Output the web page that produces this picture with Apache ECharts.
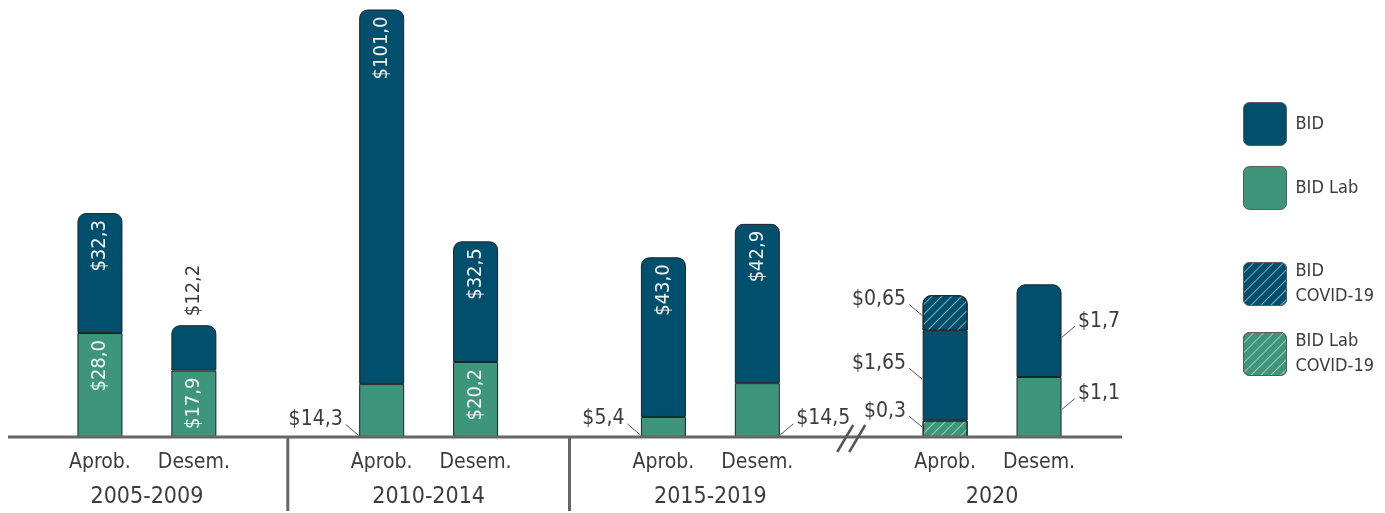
<!DOCTYPE html>
<html><head><meta charset="utf-8">
<script src="https://cdn.jsdelivr.net/npm/echarts@6/dist/echarts.min.js"></script>
<style>html,body{margin:0;padding:0;background:#fff}#c{width:1385px;height:513px}</style>
</head><body><div id="c"></div>
<script>
// ---------- DATA ----------
const categories = ['Aprob.', 'Desem.', '', 'Aprob.', 'Desem.', '', 'Aprob.', 'Desem.', '', 'Aprob.', 'Desem.'];
const periods = ['2005-2009', '2010-2014', '2015-2019', '2020'];
// 2005-2019 (main scale)
const bidLab = [28.0, 17.9, null, 14.3, 20.2, null, 5.4, 14.5, null, null, null];
const bid    = [32.3, 12.2, null, 101.0, 32.5, null, 43.0, 42.9, null, null, null];
// 2020 (separate scale, after the axis break)
const bidLabCovid2020 = [null, null, null, null, null, null, null, null, null, 0.3, null];
const bidLab2020      = [null, null, null, null, null, null, null, null, null, null, 1.1];
const bid2020         = [null, null, null, null, null, null, null, null, null, 1.65, 1.7];
const bidCovid2020    = [null, null, null, null, null, null, null, null, null, 0.65, null];

// ---------- STYLE ----------
const FONT = "'DejaVu Sans Condensed', 'Liberation Sans Narrow', 'DejaVu Sans', sans-serif";
const TXT = '#3c3c3c';
const C_BID = '#00506d';
const C_LAB = '#3d9679';
const BORDER = '#1d2226';
const BARW = 45;
const hatch = {
  symbol: 'rect', symbolSize: 1,
  dashArrayX: [[1, 0]], dashArrayY: [0.8, 6],
  rotation: -Math.PI / 4, color: 'rgba(255,255,255,0.5)'
};
const fmt = v => '$' + String(v).replace('.', ',');
const fmt1 = v => '$' + v.toFixed(1).replace('.', ',');

// which segment is on top of each bar (gets rounded corners)
const stackOrderMain = [bidLab, bid];
const stackOrder2020 = [bidLabCovid2020, bidLab2020, bid2020, bidCovid2020];
function topOf(order) {
  return categories.map((_, i) => {
    let t = -1;
    order.forEach((arr, k) => { if (arr[i] != null) t = k; });
    return t;
  });
}
const topMain = topOf(stackOrderMain);
const top2020 = topOf(stackOrder2020);
function mkData(arr, k, tops) {
  return arr.map((v, i) => v == null ? '-' :
    (tops[i] === k ? { value: v, itemStyle: { borderRadius: [8, 8, 0, 0] } } : v));
}

// labels drawn inside the bar (rotated); others are drawn outside with leader lines
const insideMain = { lab: [0, 1, 4], bid: [0, 3, 4, 6, 7] };
const aboveMain = { bid: [1] };

function insideLabel(list, above) {
  return {
    show: true, rotate: 90, fontFamily: FONT, fontSize: 20,
    position: 'insideTop', distance: 7, align: 'right', verticalAlign: 'middle',
    color: '#f4f4f4',
    formatter: p => (list.includes(p.dataIndex) || (above || []).includes(p.dataIndex)) ? fmt1(p.value) : ''
  };
}

const baseBar = {
  type: 'bar', barWidth: BARW, barGap: '-100%',
  xAxisIndex: 0,
  itemStyle: { borderColor: BORDER, borderWidth: 1 },
  emphasis: { disabled: true }
};

const series = [
  Object.assign({}, baseBar, {
    name: 'BID Lab', stack: 'main', yAxisIndex: 0,
    data: mkData(bidLab, 0, topMain),
    itemStyle: { color: C_LAB, borderColor: BORDER, borderWidth: 1 },
    label: insideLabel(insideMain.lab)
  }),
  Object.assign({}, baseBar, {
    name: 'BID', stack: 'main', yAxisIndex: 0,
    data: mkData(bid, 1, topMain).map((d, i) => {
      if (aboveMain.bid.includes(i)) {
        const o = typeof d === 'object' ? d : { value: d };
        o.label = { position: 'top', align: 'left', color: TXT, distance: 9 };
        return o;
      }
      return d;
    }),
    itemStyle: { color: C_BID, borderColor: BORDER, borderWidth: 1 },
    label: insideLabel(insideMain.bid, aboveMain.bid)
  }),
  Object.assign({}, baseBar, {
    name: 'BID Lab COVID-19', stack: 'y2020', yAxisIndex: 1,
    data: mkData(bidLabCovid2020, 0, top2020),
    itemStyle: { color: C_LAB, borderColor: BORDER, borderWidth: 1, decal: hatch }
  }),
  Object.assign({}, baseBar, {
    name: 'BID Lab', stack: 'y2020', yAxisIndex: 1,
    data: mkData(bidLab2020, 1, top2020),
    itemStyle: { color: C_LAB, borderColor: BORDER, borderWidth: 1 }
  }),
  Object.assign({}, baseBar, {
    name: 'BID', stack: 'y2020', yAxisIndex: 1,
    data: mkData(bid2020, 2, top2020),
    itemStyle: { color: C_BID, borderColor: BORDER, borderWidth: 1 }
  }),
  Object.assign({}, baseBar, {
    name: 'BID COVID-19', stack: 'y2020', yAxisIndex: 1,
    data: mkData(bidCovid2020, 3, top2020),
    itemStyle: { color: C_BID, borderColor: BORDER, borderWidth: 1, decal: hatch }
  })
];

const legendIcon = 'path://M6,0H37A6,6 0 0 1 43,6V37A6,6 0 0 1 37,43H6A6,6 0 0 1 0,37V6A6,6 0 0 1 6,0Z';
const legendNames = { 'BID COVID-19': 'BID\nCOVID-19', 'BID Lab COVID-19': 'BID Lab\nCOVID-19' };
const legendCommon = {
  orient: 'vertical', left: 1238, itemWidth: 43, itemHeight: 43, itemGap: 20,
  icon: legendIcon, selectedMode: false,
  itemStyle: { borderColor: '#5a5a5a', borderWidth: 1 },
  textStyle: { fontFamily: FONT, fontSize: 18, color: TXT, lineHeight: 25, padding: [0, 0, 0, 4] },
  formatter: n => legendNames[n] || n
};

const chart = echarts.init(document.getElementById('c'), null, { renderer: 'canvas' });
chart.setOption({
  animation: false,
  aria: { decal: { show: false } },
  grid: { left: 53, right: 299, top: 10, bottom: 76, containLabel: false },
  legend: [
    Object.assign({}, legendCommon, { top: 97, data: ['BID', 'BID Lab'] }),
    Object.assign({}, legendCommon, { top: 254, data: ['BID COVID-19', 'BID Lab COVID-19'] })
  ],
  xAxis: {
    type: 'category', data: categories,
    axisLine: { show: false }, axisTick: { show: false },
    axisLabel: { fontFamily: FONT, fontSize: 21, color: TXT, margin: 15, interval: 0 }
  },
  yAxis: [
    { type: 'value', min: 0, max: 115, show: false },
    { type: 'value', min: 0, max: 7.83, show: false }
  ],
  series: series
});

// ---------- decorations computed through the chart's scales ----------
const px = i => chart.convertToPixel({ xAxisIndex: 0 }, i);
const pyMain = v => chart.convertToPixel({ yAxisIndex: 0 }, v);
const py2020 = v => chart.convertToPixel({ yAxisIndex: 1 }, v);
const y0 = pyMain(0);
const LINE = '#666';

const g = [];
// baseline
g.push({ type: 'line', shape: { x1: 8, y1: y0, x2: 1122, y2: y0 }, style: { stroke: LINE, lineWidth: 3 }, z: 10 });
// group separators (between groups 1-2 and 2-3)
[2, 5].forEach(i => {
  const x = px(i);
  g.push({ type: 'line', shape: { x1: x, y1: y0, x2: x, y2: 511 }, style: { stroke: LINE, lineWidth: 3 }, z: 10 });
});
// axis break before 2020
{
  const x = px(8);
  [-6, 6].forEach(d => {
    g.push({ type: 'line', shape: { x1: x + d - 8, y1: y0 + 15, x2: x + d + 8, y2: y0 - 12 }, style: { stroke: '#555', lineWidth: 2.5 }, z: 11 });
  });
}
// period labels
periods.forEach((p, k) => {
  const x = (px(k * 3) + px(k * 3 + 1)) / 2;
  g.push({ type: 'text', x: x, y: 497, style: { text: p, fontFamily: FONT, fontSize: 23, fill: TXT, align: 'center', verticalAlign: 'middle' }, z: 10 });
});

// outside labels with leader lines
function segment(order, k, i) {
  let base = 0;
  for (let j = 0; j < k; j++) if (order[j][i] != null) base += order[j][i];
  return [base, base + order[k][i]];
}
const outside = [
  { order: stackOrderMain, k: 0, i: 3, side: 'left', frac: 0.0, py: pyMain, f: fmt1 },
  { order: stackOrderMain, k: 0, i: 6, side: 'left', frac: 0.1, py: pyMain, f: fmt1 },
  { order: stackOrderMain, k: 0, i: 7, side: 'right', frac: 0.04, py: pyMain, f: fmt1 },
  { order: stackOrder2020, k: 3, i: 9, side: 'left', frac: 0.43, py: py2020, f: fmt },
  { order: stackOrder2020, k: 2, i: 9, side: 'left', frac: 0.46, py: py2020, f: fmt },
  { order: stackOrder2020, k: 0, i: 9, side: 'left', frac: 0.6, py: py2020, f: fmt },
  { order: stackOrder2020, k: 2, i: 10, side: 'right', frac: 0.43, py: py2020, f: fmt },
  { order: stackOrder2020, k: 1, i: 10, side: 'right', frac: 0.46, py: py2020, f: fmt }
];
outside.forEach(o => {
  const [b, t] = segment(o.order, o.k, o.i);
  const val = o.order[o.k][o.i];
  const yB = o.py(b), yT = o.py(t);
  const ya = Math.min(yB - 1.5, yB + (yT - yB) * o.frac);
  const sgn = o.side === 'left' ? -1 : 1;
  const xe = px(o.i) + sgn * (BARW / 2 + 0.5);
  g.push({ type: 'line', shape: { x1: xe, y1: ya, x2: xe + sgn * 13, y2: ya - 11 }, style: { stroke: '#555', lineWidth: 1 }, z: 12 });
  g.push({ type: 'text', x: xe + sgn * 16, y: ya - 16, style: { text: o.f(val), fontFamily: FONT, fontSize: 21, fill: TXT, align: o.side === 'left' ? 'right' : 'left', verticalAlign: 'middle' }, z: 12 });
});
chart.setOption({ graphic: g });
</script>
</body></html>
